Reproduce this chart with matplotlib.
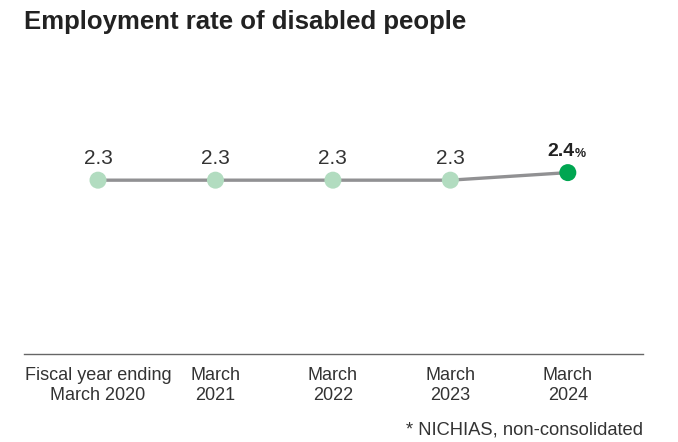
import numpy as np
import matplotlib
matplotlib.use("Agg")
import matplotlib.pyplot as plt

plt.rcParams['font.family'] = ['Liberation Sans', 'DejaVu Sans']

years = ['Fiscal year ending\nMarch 2020', 'March\n2021', 'March\n2022', 'March\n2023', 'March\n2024']
rate = [2.3, 2.3, 2.3, 2.3, 2.4]
labels = ['2.3', '2.3', '2.3', '2.3', '2.4']

light_green = '#b2dcc0'
dark_green = '#00a651'
line_gray = '#919193'
text_col = '#333333'

fig = plt.figure(figsize=(6.78, 4.42), dpi=100)
ax = fig.add_axes([24 / 678, 88 / 442, 619 / 678, 294 / 442])

x = np.arange(len(rate))
ax.plot(x, rate, color=line_gray, lw=2.4, zorder=1)
cols = [light_green] * (len(rate) - 1) + [dark_green]
ax.scatter(x, rate, s=150, c=cols, zorder=2, linewidths=0)

# value labels, last one bold with a small percent sign
for i in range(len(rate) - 1):
    ax.annotate(labels[i], (x[i], rate[i]), xytext=(0, 9), textcoords='offset points',
                ha='center', va='bottom', fontsize=15, color=text_col)
ax.annotate(labels[-1], (x[-1], rate[-1]), xytext=(-4.7, 9), textcoords='offset points',
            ha='center', va='bottom', fontsize=14, fontweight='bold', color='#222222')
ax.annotate('%', (x[-1], rate[-1]), xytext=(5.2, 9), textcoords='offset points',
            ha='left', va='bottom', fontsize=9, fontweight='bold', color='#222222')

ax.set_xlim(-0.63, 4.64)
ax.set_ylim(0, 3.89)
ax.set_xticks(x)
ax.set_xticklabels(years, fontsize=13, color=text_col, linespacing=1.3)
ax.tick_params(axis='x', length=0, pad=9)
ax.set_yticks([])
for s in ['top', 'left', 'right']:
    ax.spines[s].set_visible(False)
ax.spines['bottom'].set_color('#666666')
ax.spines['bottom'].set_linewidth(1.0)

fig.text(24 / 678, 1 - 22 / 442, 'Employment rate of disabled people', fontsize=18.5,
         fontweight='bold', color='#222222', va='center', ha='left')
fig.text(643 / 678, 1 - 430 / 442, '* NICHIAS, non-consolidated', fontsize=13.2,
         color=text_col, va='center', ha='right')

fig.savefig('out.png', dpi=100)
